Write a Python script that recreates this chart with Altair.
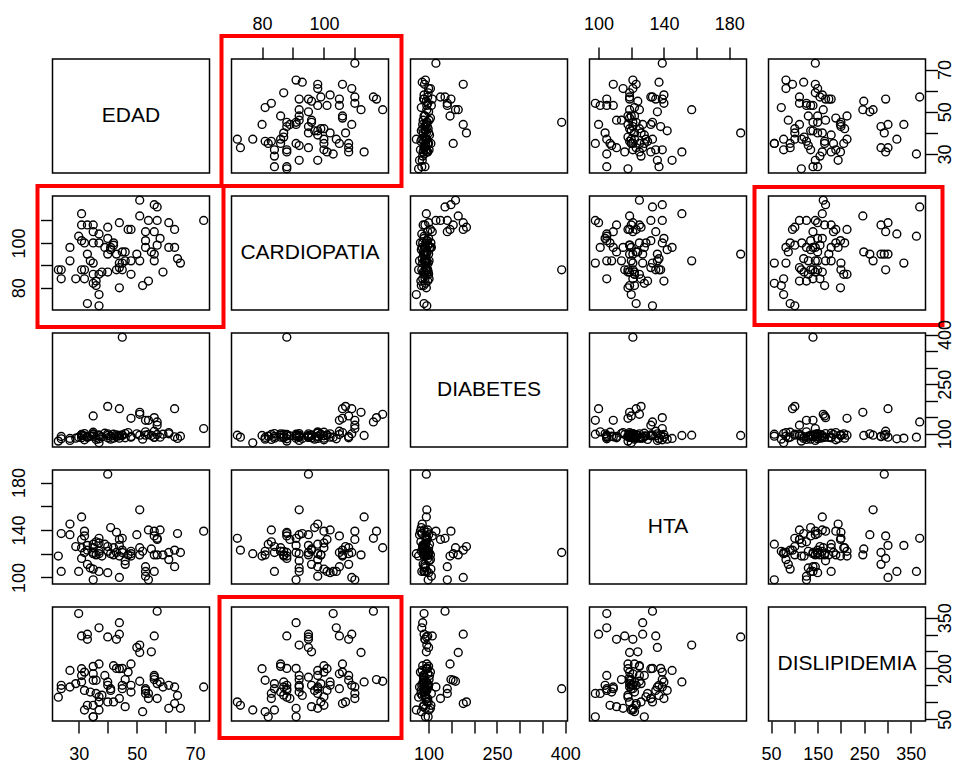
import json
import altair as alt
import numpy as np
import pandas as pd

VARS = ["EDAD", "CARDIOPATIA", "DIABETES", "HTA", "DISLIPIDEMIA"]

edad = [51, 56, 57, 31, 73, 51, 54, 57, 61, 63,
        44, 47, 48, 31, 33, 35, 40, 35, 37, 30,
        32, 31, 35, 37, 40, 53, 56, 53, 58, 42,
        42, 41, 41, 27, 33, 39, 40, 45, 46, 43,
        50, 53, 55, 56, 57, 61, 63, 64, 65, 27,
        34, 35, 44, 45, 46, 48, 51, 56, 23, 24,
        32, 31, 38, 40, 37, 35, 36, 44, 45, 43,
        48, 59, 24, 29, 32, 35, 36, 44, 52, 54,
        37, 33, 37]
cardiopatia = [119, 117, 116, 113, 110, 112, 110, 110, 109, 106,
               109, 106, 106, 108, 108, 108, 107, 105, 104, 103,
               100, 101, 100, 100, 102, 105, 105, 101, 102, 100,
               99, 98, 97, 98, 95, 98, 95, 96, 96, 95,
               95, 98, 96, 95, 99, 98, 98, 93, 91, 92,
               92, 91, 91, 91, 92, 92, 92, 92, 88, 88,
               88, 88, 87, 87, 86, 86, 83, 89, 88, 88,
               86, 87, 84, 84, 84, 82, 81, 80, 81, 83,
               77, 73, 72]
diabetes = [159, 149, 136, 95, 116, 165, 141, 126, 100, 176,
            176, 104, 147, 88, 92, 154, 183, 98, 85, 90,
            82, 97, 105, 94, 100, 141, 108, 96, 90, 87,
            99, 93, 84, 86, 90, 102, 95, 97, 88, 92,
            100, 106, 95, 89, 98, 104, 91, 86, 93, 80,
            93, 99, 87, 95, 101, 92, 96, 90, 78, 85,
            94, 98, 91, 88, 96, 100, 83, 94, 392, 97,
            90, 99, 92, 87, 101, 93, 89, 95, 84, 98,
            73, 90, 96]

# HTA (edad, hta)
hta_edad = [41, 53, 31, 27, 24, 27, 73, 42, 44, 50,
            54, 55, 59, 64, 33, 33, 32, 45, 46, 56,
            57, 57, 30, 31, 37, 38, 40, 40, 34, 35,
            37, 38, 41, 43, 45, 46, 48, 49, 51, 53,
            56, 57, 59, 61, 63, 65, 61, 63, 23, 33,
            32, 33, 34, 35, 37, 40, 24, 30, 44, 46,
            47, 53, 53, 53, 53, 56, 35,
            34, 35, 36, 38, 39, 41, 42, 43, 45, 48, 49, 50, 38, 33, 44, 54]
hta_valores = [187, 157, 151, 145, 137, 136, 139, 142, 138, 136,
               140, 139, 140, 137, 139, 135, 132, 132, 133, 135,
               133, 132, 126, 125, 130, 129, 128, 126, 123, 121,
               119, 122, 122, 119, 118, 121, 119, 120, 119, 122,
               119, 119, 119, 121, 123, 121, 115, 109, 118, 121,
               116, 111, 108, 107, 105, 104, 105, 105, 100, 111,
               114, 109, 105, 101, 98, 105, 98,
               120, 125, 128, 120, 118, 120, 125, 121, 123, 118, 122, 125, 133, 127, 127, 124]

# DISLIPIDEMIA (cardiopatia, dislipidemia)
dis_cardio = [102, 116, 92, 90, 95, 95, 95, 94, 95, 96,
              102, 104, 109, 108, 111, 87, 87, 91, 92, 80,
              80, 106, 105, 107, 108, 108, 100, 100, 99, 97,
              95, 97, 94, 93, 103, 113, 116, 118, 110, 110,
              110, 104, 106, 86, 85, 84, 84, 87, 88, 88,
              89, 88, 92, 92, 91, 95, 96, 97, 95, 97,
              99, 98, 99, 100, 91, 91, 86, 72, 73, 77,
              81, 82,
              89, 90, 93, 96, 97, 98, 100, 101, 103, 88, 94]
dis_valores = [362, 369, 335, 296, 301, 293, 286, 269, 262, 249,
               320, 296, 301, 286, 247, 213, 206, 200, 200, 199,
               165, 213, 189, 179, 165, 150, 208, 199, 189, 194,
               174, 179, 179, 167, 184, 160, 167, 162, 145, 126,
               111, 96, 101, 155, 140, 126, 111, 130, 121, 160,
               150, 145, 145, 130, 111, 150, 135, 126, 87, 82,
               91, 101, 116, 135, 82, 57, 77, 101, 91, 77,
               72, 57,
               135, 140, 150, 140, 145, 155, 150, 160, 140, 115, 120]

TICKS = {
    "EDAD": [30, 40, 50, 60, 70],
    "CARDIOPATIA": [80, 90, 100, 110],
    "DIABETES": [100, 150, 200, 250, 300, 350, 400],
    "HTA": [100, 120, 140, 160, 180],
    "DISLIPIDEMIA": [50, 100, 150, 200, 250, 300, 350],
}
LABELS_X = {
    "EDAD": [30, 50, 70],
    "CARDIOPATIA": [80, 100],
    "DIABETES": [100, 250, 400],
    "HTA": [100, 140, 180],
    "DISLIPIDEMIA": [50, 150, 250, 350],
}
LABELS_Y = {
    "EDAD": [30, 50, 70],
    "CARDIOPATIA": [80, 100],
    "DIABETES": [100, 250, 400],
    "HTA": [100, 140, 180],
    "DISLIPIDEMIA": [50, 200, 350],
}

# ---- assemble table (align read values by rank of the shared variable) ----
n = len(edad)
hta = np.empty(n)
hta[np.argsort(np.array(edad), kind="stable")] = np.array(hta_valores)[np.argsort(np.array(hta_edad), kind="stable")]
dis = np.empty(n)
dis[np.argsort(np.array(cardiopatia), kind="stable")] = np.array(dis_valores)[np.argsort(np.array(dis_cardio), kind="stable")]
df = pd.DataFrame({"EDAD": edad, "CARDIOPATIA": cardiopatia, "DIABETES": diabetes,
                   "HTA": hta, "DISLIPIDEMIA": dis})

W, H = 157, 114
FONT = "Liberation Sans"
LABEL_PAD = {"top": 23, "bottom": 21, "left": 21, "right": 8}


def dom(v):
    a = float(df[v].min())
    b = float(df[v].max())
    s = b - a
    return [a - 0.04 * s, b + 0.04 * s]


DOM = {v: dom(v) for v in VARS}


def make_axis(v, orient):
    if orient in ("left", "right"):
        shown = LABELS_Y[v]
        ang = 270
    else:
        shown = LABELS_X[v]
        ang = 0
    expr = "indexof(" + json.dumps(shown) + ", datum.value) >= 0 ? datum.label : ''"
    return alt.Axis(orient=orient, values=TICKS[v], labelExpr=expr, labelAngle=ang,
                    labelAlign="center", labelBaseline="middle", title=None, grid=False,
                    domain=False, ticks=True, tickSize=12, tickWidth=1.4, tickColor="black",
                    labelColor="black", labelFont=FONT, labelFontSize=18,
                    labelPadding=LABEL_PAD[orient],
                    labelOverlap=False, labelFlush=False, labelBound=False)


def axes_for(i, j):
    xa = None
    ya = None
    if i == 0 and j % 2 == 1:
        xa = make_axis(VARS[j], "top")
    if i == 4 and j % 2 == 0:
        xa = make_axis(VARS[j], "bottom")
    if j == 0 and i % 2 == 1:
        ya = make_axis(VARS[i], "left")
    if j == 4 and i % 2 == 0:
        ya = make_axis(VARS[i], "right")
    return xa, ya


def enc_x(v, ax):
    return alt.X(f"{v}:Q", scale=alt.Scale(domain=DOM[v], nice=False, zero=False), axis=ax)


def enc_y(v, ax):
    return alt.Y(f"{v}:Q", scale=alt.Scale(domain=DOM[v], nice=False, zero=False), axis=ax)


RED_BOX = {
    (0, 1): (-10, W + 13, -23, H + 13),
    (1, 0): (-15, W + 14, -10, H + 17),
    (1, 4): (-14, W + 17, -9, H + 15),
    (4, 1): (-12, W + 13, -10, H + 17),
}

panels = []
for i in range(5):
    for j in range(5):
        xa, ya = axes_for(i, j)
        if i == j:
            txt = alt.Chart(pd.DataFrame({"nombre": [VARS[i]]})).mark_text(
                font=FONT, fontSize=21, color="black", align="center", baseline="middle"
            ).encode(x=alt.value(W / 2), y=alt.value(H / 2), text="nombre:N")
            if xa is not None or ya is not None:
                pts = alt.Chart(df).mark_point(opacity=0).encode(
                    x=enc_x(VARS[j], xa), y=enc_y(VARS[i], ya))
                p = alt.layer(pts, txt).properties(width=W, height=H)
            else:
                p = txt.properties(width=W, height=H)
        else:
            p = alt.Chart(df).mark_point(
                shape="circle", filled=False, color="black", size=62, strokeWidth=1.4, opacity=1
            ).encode(x=enc_x(VARS[j], xa), y=enc_y(VARS[i], ya)).properties(width=W, height=H)
            if (i, j) in RED_BOX:
                x0, x1, y0, y1 = RED_BOX[(i, j)]
                red = alt.Chart(pd.DataFrame({"k": [0]})).mark_rect(
                    fillOpacity=0, stroke="#ff0000", strokeWidth=4
                ).encode(x=alt.value(x0), x2=alt.value(x1), y=alt.value(y0), y2=alt.value(y1))
                p = alt.layer(p, red).properties(width=W, height=H)
        panels.append(p)

chart = alt.concat(*panels, columns=5, spacing={"row": 23, "column": 22}, bounds="flush").properties(
    padding={"left": 1.5, "top": 6, "right": 0, "bottom": 0},
    background="white",
).configure_view(stroke="black", strokeWidth=1.5)

chart.save("out.html", embed_options={"renderer": "svg", "actions": False})
